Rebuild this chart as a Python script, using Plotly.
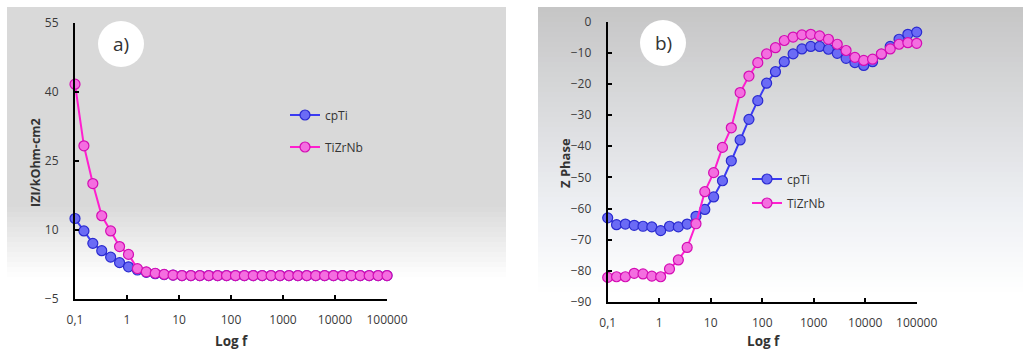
import numpy as np
import plotly.graph_objects as go

# ---- data ----
n_pts = 36
freq = [10 ** (-1 + 6 * k / (n_pts - 1)) for k in range(n_pts)]

z_cpTi = [12.5, 9.8, 7.1, 5.5, 4.1, 2.9, 2.0, 1.3, 0.8, 0.5, 0.3, 0.2,
          0.1, 0.1, 0.1, 0.1, 0.1, 0.1, 0.1, 0.1, 0.1, 0.1, 0.1, 0.1,
          0.1, 0.1, 0.1, 0.1, 0.1, 0.1, 0.1, 0.1, 0.1, 0.1, 0.1, 0.1]
z_TiZrNb = [41.7, 28.3, 20.1, 13.1, 9.8, 6.4, 4.7, 1.6, 0.9, 0.6, 0.35, 0.2,
            0.1, 0.1, 0.1, 0.1, 0.1, 0.1, 0.1, 0.1, 0.1, 0.1, 0.1, 0.1,
            0.1, 0.1, 0.1, 0.1, 0.1, 0.1, 0.1, 0.1, 0.1, 0.1, 0.1, 0.1]

ph_cpTi = [-63.0, -65.2, -65.0, -65.4, -65.7, -65.9, -67.1, -65.7, -65.9, -65.0,
           -62.5, -60.3, -56.3, -51.1, -44.7, -38.0, -31.4, -25.4, -19.8, -16.1,
           -12.9, -10.4, -8.8, -8.0, -8.0, -8.9, -10.2, -11.8, -13.2, -14.1,
           -12.9, -10.5, -8.0, -5.7, -4.1, -3.4]
ph_TiZrNb = [-82.1, -81.9, -81.9, -80.8, -81.0, -81.7, -81.9, -79.4, -76.5, -72.5,
             -64.9, -54.6, -48.5, -40.4, -34.1, -22.8, -17.5, -13.2, -10.4, -8.4,
             -6.1, -5.0, -4.3, -4.1, -4.6, -5.7, -7.3, -9.3, -11.5, -12.5,
             -12.1, -10.4, -8.8, -7.3, -6.8, -7.0]

x_tickvals = [0.1, 1, 10, 100, 1000, 10000, 100000]
x_ticktext = ["0,1", "1", "10", "100", "1000", "10000", "100000"]
y1_ticks = [-5, 10, 25, 40, 55]
y2_ticks = [0, -10, -20, -30, -40, -50, -60, -70, -80, -90]
series_names = ["cpTi", "TiZrNb"]

# ---- styling ----
W, H = 1023, 364
FONT = "Open Sans"
TICK_COL = "#3a3a3a"
BLUE_LINE, BLUE_FILL, BLUE_EDGE = "#3b3bf2", "#6b6bf5", "#2a2ad0"
PINK_LINE, PINK_FILL, PINK_EDGE = "#ff1fcf", "#f46ee0", "#d40cb4"

def px_x(p):
    return p / W

def px_y(p):
    return 1 - p / H

fig = go.Figure()

def add_series(x, y, name, line_col, fill, edge, xa, ya, legend):
    fig.add_trace(go.Scatter(
        x=x, y=y, name=name, mode="lines+markers",
        line=dict(color=line_col, width=2),
        marker=dict(size=10, color=fill, line=dict(color=edge, width=1.2)),
        xaxis=xa, yaxis=ya, cliponaxis=False, legend=legend, showlegend=True))

add_series(freq, z_cpTi, series_names[0], BLUE_LINE, BLUE_FILL, BLUE_EDGE, "x", "y", "legend")
add_series(freq, z_TiZrNb, series_names[1], PINK_LINE, PINK_FILL, PINK_EDGE, "x", "y", "legend2")
add_series(freq, ph_cpTi, series_names[0], BLUE_LINE, BLUE_FILL, BLUE_EDGE, "x2", "y2", "legend3")
add_series(freq, ph_TiZrNb, series_names[1], PINK_LINE, PINK_FILL, PINK_EDGE, "x2", "y2", "legend4")

# ---- background gradients (panel frames) ----
shapes = []
def grad_panel(x0, x1, y0, y1, colfun, n=70):
    step = (y1 - y0) / n
    for i in range(n):
        a = y0 + i * step
        b = a + step + 0.6
        c = colfun(a + step / 2)
        shapes.append(dict(type="rect", xref="paper", yref="paper", layer="below",
                           x0=px_x(x0), x1=px_x(x1), y0=px_y(min(b, y1)), y1=px_y(a),
                           line=dict(width=0), fillcolor=c))

def left_col(py):
    if py < 205:
        v = 217
    elif py < 278:
        v = 217 + (255 - 217) * (py - 205) / 73
    else:
        v = 255
    v = int(round(v))
    return f"rgb({v},{v},{v})"

def right_col(py):
    if py < 208:
        t = (py - 7) / 201
        r = 198 + (238 - 198) * t
        g = 198 + (240 - 198) * t
        b = 198 + (244 - 198) * t
    elif py < 290:
        t = (py - 208) / 82
        r = 238 + 17 * t
        g = 240 + 15 * t
        b = 244 + 11 * t
    else:
        r = g = b = 255
    return f"rgb({int(r)},{int(g)},{int(b)})"

grad_panel(7, 506, 7, 357, left_col)
grad_panel(538, 1023, 7, 357, right_col)

# label circles
for cx, cy in [(121, 44), (663, 43)]:
    shapes.append(dict(type="circle", xref="paper", yref="paper", layer="below",
                       x0=px_x(cx - 23), x1=px_x(cx + 23), y0=px_y(cy + 23), y1=px_y(cy - 23),
                       line=dict(width=0), fillcolor="white"))

def ann(text, x, y, size, angle=0):
    return dict(text=text, x=px_x(x), y=px_y(y), xref="paper", yref="paper",
                xanchor="center", yanchor="middle", showarrow=False, textangle=angle,
                font=dict(family=FONT, size=size, color="#333333"))

annotations = [
    ann("a)", 121, 44, 19),
    ann("b)", 663, 43, 19),
    ann("<b>IZI/kOhm-cm2</b>", 35, 163, 12.5, -90),
    ann("<b>Log f</b>", 231, 341, 13.5),
    ann("<b>Z Phase</b>", 565, 163, 13, -90),
    ann("<b>Log f</b>", 763, 341, 13.5),
]

axis_common = dict(showline=True, linecolor="black", linewidth=2, ticks="inside",
                   ticklen=4, tickwidth=2, tickcolor="black", showgrid=False, zeroline=False,
                   tickfont=dict(family=FONT, size=12, color=TICK_COL), fixedrange=True,
                   automargin=False)

xax = dict(type="log", range=[-1, 5], tickmode="array", tickvals=x_tickvals,
           ticktext=x_ticktext, ticklabelstandoff=9, **axis_common)

legend_common = dict(bgcolor="rgba(0,0,0,0)", borderwidth=0, xanchor="left", yanchor="middle",
                     font=dict(family=FONT, size=12, color="#333333"), itemwidth=30)

fig.update_layout(
    width=W, height=H, margin=dict(l=0, r=0, t=0, b=0, pad=0, autoexpand=False),
    paper_bgcolor="white", plot_bgcolor="rgba(0,0,0,0)",
    xaxis=dict(domain=[px_x(75), px_x(387)], anchor="y", **xax),
    yaxis=dict(domain=[px_y(299), px_y(23)], anchor="x", range=[-5, 55], tickmode="array",
               tickvals=y1_ticks, ticklabelstandoff=12, **axis_common),
    xaxis2=dict(domain=[px_x(607.7), px_x(916.7)], anchor="y2", **xax),
    yaxis2=dict(domain=[px_y(302), px_y(21.5)], anchor="x2", range=[-90, 0], tickmode="array",
                tickvals=y2_ticks, ticklabelstandoff=12, **axis_common),
    shapes=shapes, annotations=annotations,
    legend=dict(x=px_x(285), y=px_y(115), **legend_common),
    legend2=dict(x=px_x(285), y=px_y(147), **legend_common),
    legend3=dict(x=px_x(747), y=px_y(179), **legend_common),
    legend4=dict(x=px_x(747), y=px_y(203), **legend_common),
)

fig.write_html("out.html", config={"displayModeBar": False},
               post_script="document.body.style.margin='0px';document.body.style.overflow='hidden';")
